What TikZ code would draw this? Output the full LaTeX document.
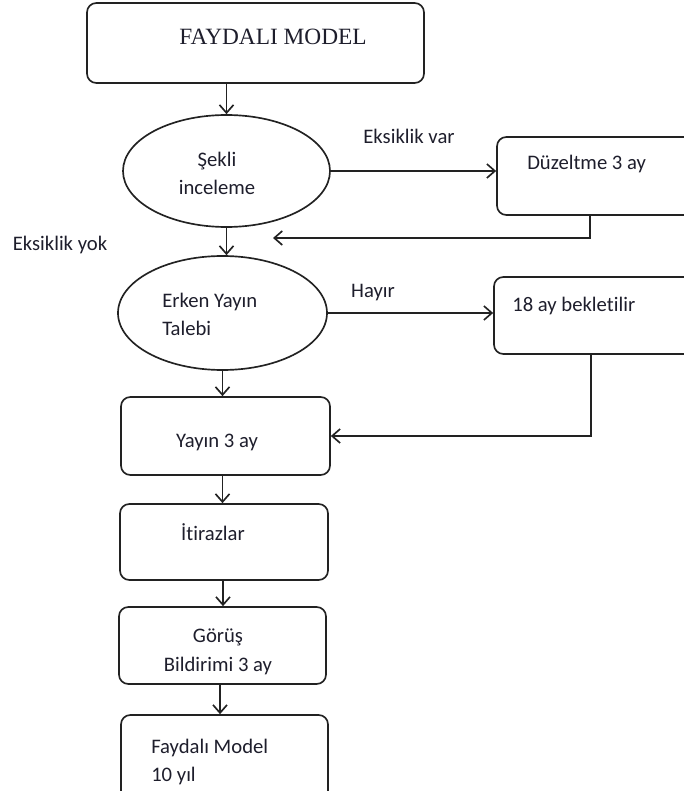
\documentclass[tikz,border=0pt]{standalone}
\usepackage{fontspec}
\setmainfont{Carlito}[Ligatures={NoCommon}]
\newfontfamily\headfont{Liberation Serif}
\usetikzlibrary{shapes.geometric,arrows.meta,fit}
\definecolor{ink}{HTML}{1E1E2C}
\definecolor{edge}{HTML}{222222}

\begin{document}
\begin{tikzpicture}[x=0.75pt,y=-0.75pt,
  box/.style={draw=edge, line width=1.25pt, rounded corners=7pt, inner sep=0pt},
  oval/.style={draw=edge, line width=1.25pt, ellipse, inner sep=0pt},
  lbl/.style={text=ink, inner sep=0pt, font=\fontsize{15.5}{21}\selectfont},
  flow/.style={draw=edge, line width=1.25pt, -{Straight Barb[length=6pt,width=10.5pt]}}]
\useasboundingbox (0,0) rectangle (683,791);

% boxes and decision ovals
\node[box, fit={(87,3) (424,83)}] (start) {};
\node[oval, minimum width=207*0.75pt, minimum height=112*0.75pt] (shape) at (226.5,171) {};
\node[box, fit={(497,137) (700,215)}] (fix) {};
\node[oval, minimum width=209*0.75pt, minimum height=114*0.75pt] (req) at (222.5,313) {};
\node[box, fit={(494,277) (700,354)}] (wait) {};
\node[box, fit={(121,397) (330,475)}] (pub) {};
\node[box, fit={(120,504) (328,580)}] (obj) {};
\node[box, fit={(119,607) (326,684)}] (view) {};
\node[box, fit={(121,715) (328,830)}] (final) {};

% texts
\node[lbl, font=\headfont\fontsize{17.5}{20}\selectfont] (startT) at (273,37) {FAYDALI MODEL};
\node[lbl, align=center] (shapeT) at (217,173) {Şekli\\inceleme};
\node[lbl, anchor=west] (fixT) at (527,164) {Düzeltme 3 ay};
\node[lbl] (varT) at (409,136) {Eksiklik var};
\node[lbl] (yokT) at (60,245) {Eksiklik yok};
\node[lbl, anchor=west, align=left] (reqT) at (162,314) {Erken Yayın\\Talebi};
\node[lbl] (noT) at (373,293) {Hayır};
\node[lbl, anchor=west] (waitT) at (512,306) {18 ay bekletilir};
\node[lbl] (pubT) at (217,442) {Yayın 3 ay};
\node[lbl] (objT) at (213,532) {İtirazlar};
\node[lbl, align=center, font=\fontsize{15.5}{21.5}\selectfont] (viewT) at (218,652) {Görüş\\Bildirimi 3 ay};
\node[lbl, anchor=west, align=left, font=\fontsize{15.5}{21.5}\selectfont] (finalT) at (151,762) {Faydalı Model\\10 yıl};

% return points on the side boxes
\coordinate (fixdrop) at (590,215);
\coordinate (fixback) at (273,238);
\coordinate (waitdrop) at (591,354);

% connectors
\draw[flow] (start.south -| shape.north) -- (shape.north);
\draw[flow] (shape.east) -- (shape.east -| fix.west);
\draw[flow] (fixdrop) |- (fixback);
\draw[flow] (shape.south) -- (shape.south |- req.north);
\draw[flow] (req.east) -- (req.east -| wait.west);
\draw[flow] (waitdrop) |- (pub.east);
\draw[flow] (req.south) -- (req.south |- pub.north);
\draw[flow] (pub.south -| req.south) -- (req.south |- obj.north);
\draw[flow] (obj.south -| 223,0) -- (view.north -| 223,0);
\draw[flow] (view.south -| 220,0) -- (final.north -| 220,0);
\end{tikzpicture}
\end{document}
